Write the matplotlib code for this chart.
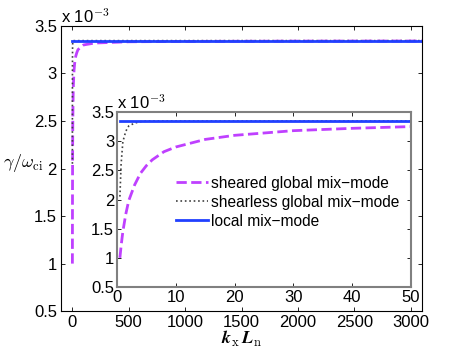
import numpy as np
import matplotlib
matplotlib.use('Agg')
import matplotlib.pyplot as plt

plt.rcParams['font.family'] = ['Liberation Sans', 'DejaVu Sans']
plt.rcParams['mathtext.fontset'] = 'cm'

# growth rate gamma/omega_ci in units of 1e-3
kx = [0.5, 0.7, 1, 1.5, 2, 3, 4, 5, 6, 8, 10, 15, 20, 30, 40, 50,
      100, 200, 500, 1000, 2000, 3000, 3100]
sheared = [1.0, 1.2, 1.45, 1.75, 1.98, 2.25, 2.45, 2.58, 2.68, 2.82, 2.90, 3.03,
           3.10, 3.18, 3.22, 3.25, 3.30, 3.32, 3.333, 3.337, 3.340, 3.341, 3.341]
shearless = [2.05, 2.6, 2.99, 3.17, 3.26, 3.31, 3.335, 3.343, 3.345, 3.345, 3.345, 3.345,
             3.345, 3.345, 3.345, 3.345, 3.345, 3.345, 3.345, 3.345, 3.345, 3.345, 3.345]
local = [3.345] * len(kx)

c_sheared = '#bf40ff'
c_shearless = '#404040'
c_local = '#2040ff'
fs = 12

fig = plt.figure(figsize=(4.66, 3.5), dpi=100)
ax = fig.add_axes([0.131, 0.111, 0.775, 0.815])

ax.plot(kx, sheared, '--', color=c_sheared, lw=2)
ax.plot(kx, shearless, ':', color=c_shearless, lw=1.2)
ax.plot(kx, local, '-', color=c_local, lw=2)
ax.set_xlim(-100, 3100)
ax.set_ylim(0.5, 3.5)
ax.set_xticks(np.arange(0, 3001, 500))
ax.set_yticks(np.arange(0.5, 3.51, 0.5))
ax.set_yticklabels(['0.5', '1', '1.5', '2', '2.5', '3', '3.5'])
ax.tick_params(direction='in', top=True, right=True, labelsize=fs, length=3, width=0.6, pad=3)
for s in ax.spines.values():
    s.set_linewidth(0.8)
ax.text(0.0, 1.0, r'x 10$^{-3}$', transform=ax.transAxes, fontsize=fs, va='bottom')
ax.set_xlabel(r'$\boldsymbol{k}_{\rm x}\,\boldsymbol{L}_{\rm n}$', fontsize=13, labelpad=-1)
ax.set_ylabel(r'$\gamma/\omega_{\rm ci}$', fontsize=13, rotation=0, ha='right', va='center')
ax.yaxis.set_label_coords(-0.05, 0.52)

ins = fig.add_axes([0.251, 0.18, 0.631, 0.50])
ins.plot(kx, sheared, '--', color=c_sheared, lw=2, label='sheared global mix\u2212mode')
ins.plot(kx, shearless, ':', color=c_shearless, lw=1.2, label='shearless global mix\u2212mode')
ins.plot(kx, local, '-', color=c_local, lw=2, label='local mix\u2212mode')
ins.set_xlim(0, 50)
ins.set_ylim(0.5, 3.5)
ins.set_xticks(np.arange(0, 51, 10))
ins.set_yticks(np.arange(0.5, 3.51, 0.5))
ins.set_yticklabels(['0.5', '1', '1.5', '2', '2.5', '3', '3.5'])
ins.tick_params(direction='in', top=True, right=True, labelsize=fs, length=3, width=0.6, pad=2)
for s in ins.spines.values():
    s.set_linewidth(1.5)
    s.set_color('#808080')
ins.text(0.0, 1.0, r'x 10$^{-3}$', transform=ins.transAxes, fontsize=fs, va='bottom')
ins.legend(loc='upper left', bbox_to_anchor=(0.2, 0.635), frameon=False, fontsize=11.2,
           handlelength=2.05, handletextpad=0.2, labelspacing=0.25, borderpad=0,
           borderaxespad=0)

fig.savefig('out.png', dpi=100)
